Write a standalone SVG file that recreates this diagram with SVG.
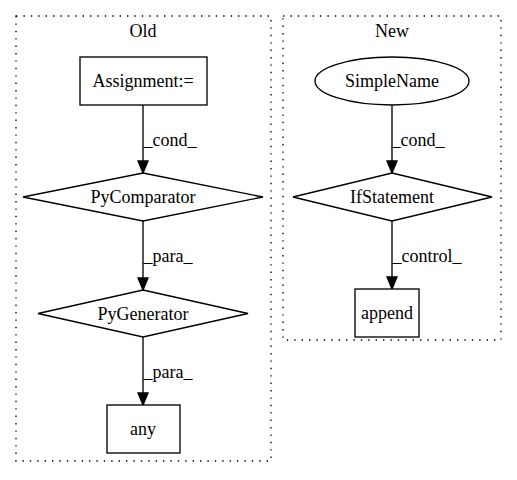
<svg xmlns="http://www.w3.org/2000/svg" width="517" height="480" viewBox="0 0 517 480">
<style>
text{font-family:"Liberation Serif","Times New Roman",serif;font-size:18px;fill:#000}
.n{text-anchor:middle}
.cl{fill:none;stroke:#000;stroke-width:1.33;stroke-dasharray:1.4,6}
.shape{fill:#fff;stroke:#000;stroke-width:1.33}
.e{stroke:#000;stroke-width:1.33;fill:none}
.ah{fill:#000;stroke:#000;stroke-width:1.33}
</style>
<rect width="517" height="480" fill="#fff"/>
<g id="cluster_old">
<rect class="cl" x="16" y="16" width="255" height="445"/>
<text class="n" x="143" y="37">Old</text>
</g>
<g id="cluster_new">
<rect class="cl" x="283" y="16" width="218" height="324"/>
<text class="n" x="392" y="37">New</text>
</g>
<g id="connectors">
<line class="e" x1="143" y1="105" x2="143" y2="161"/>
<polygon class="ah" points="138,161 148,161 143,173"/>
<text class="n" x="170" y="146">_cond_</text>
<line class="e" x1="143" y1="221" x2="143" y2="278"/>
<polygon class="ah" points="138,278 148,278 143,290"/>
<text class="n" x="168" y="262">_para_</text>
<line class="e" x1="143" y1="337" x2="143" y2="393"/>
<polygon class="ah" points="138,393 148,393 143,405"/>
<text class="n" x="168" y="378">_para_</text>
<line class="e" x1="392" y1="105" x2="392" y2="161"/>
<polygon class="ah" points="387,161 397,161 392,173"/>
<text class="n" x="418" y="146">_cond_</text>
<line class="e" x1="392" y1="221" x2="392" y2="277"/>
<polygon class="ah" points="387,277 397,277 392,289"/>
<text class="n" x="427" y="262">_control_</text>
</g>
<g id="assignment">
<rect class="shape" x="80" y="57" width="127" height="48"/>
<text class="n" x="143" y="87">Assignment:=</text>
</g>
<g id="pycomparator">
<polygon class="shape" points="143,173 263,197 143,221 23,197"/>
<text class="n" x="143" y="203">PyComparator</text>
</g>
<g id="pygenerator">
<polygon class="shape" points="143,290 248,313.5 143,337 38,313.5"/>
<text class="n" x="143" y="319.5">PyGenerator</text>
</g>
<g id="any">
<rect class="shape" x="107" y="405" width="73" height="48"/>
<text class="n" x="143" y="435">any</text>
</g>
<g id="simplename">
<ellipse class="shape" cx="392" cy="81" rx="77" ry="24"/>
<text class="n" x="392" y="87">SimpleName</text>
</g>
<g id="ifstatement">
<polygon class="shape" points="392,173 492,197 392,221 293,197"/>
<text class="n" x="392" y="203">IfStatement</text>
</g>
<g id="append">
<rect class="shape" x="355" y="289" width="64" height="48"/>
<text class="n" x="387" y="319">append</text>
</g>
</svg>
